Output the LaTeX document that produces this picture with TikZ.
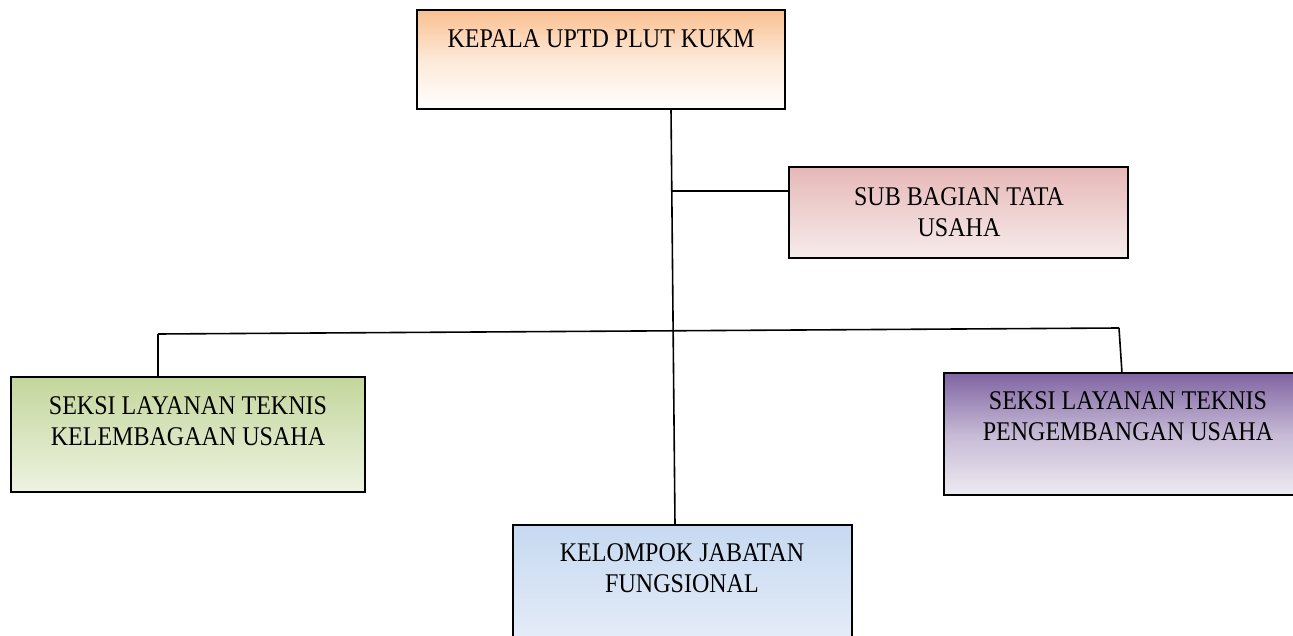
\documentclass[tikz,border=0pt]{standalone}
\usepackage{fontspec}
\setmainfont[FakeStretch=0.89]{Liberation Serif}
\definecolor{orgtop}{HTML}{FAC090}
\definecolor{redtop}{HTML}{E6B8B7}
\definecolor{redbot}{HTML}{F7ECEC}
\definecolor{grntop}{HTML}{C3D69B}
\definecolor{grnbot}{HTML}{EEF3E2}
\definecolor{purtop}{HTML}{8064A2}
\definecolor{purbot}{HTML}{EEEBF2}
\definecolor{blutop}{HTML}{C6D9F1}
\definecolor{blubot}{HTML}{EAF0F9}
\tikzset{
  box/.style={draw=black, line width=1.6pt, rectangle, inner sep=0pt},
  lbl/.style={anchor=north, inner sep=0pt, align=center, font=\fontsize{27}{31}\selectfont},
  conn/.style={line width=1.6pt}
}
\begin{document}
\begin{tikzpicture}[x=1pt,y=-1pt]
\useasboundingbox (0,0) rectangle (1293,636);
% boxes
\path[box, shading=axis, top color=orgtop, bottom color=white, middle color=orgtop!35] (417,10) rectangle (785,109);
\node[minimum width=368pt, minimum height=99pt, inner sep=0pt] (kepala) at (601,59.5) {};
\path[box, top color=redtop, bottom color=redbot] (789,167) rectangle (1128,258);
\node[minimum width=339pt, minimum height=91pt, inner sep=0pt] (sub) at (958.5,212.5) {};
\path[box, top color=grntop, bottom color=grnbot] (11,377) rectangle (365,492);
\node[minimum width=354pt, minimum height=115pt, inner sep=0pt] (kel) at (188,434.5) {};
\path[box, top color=purtop, bottom color=purbot, middle color=purtop!45] (944,373) rectangle (1312,495);
\node[minimum width=368pt, minimum height=122pt, inner sep=0pt] (peng) at (1128,434) {};
\path[box, top color=blutop, bottom color=blubot] (513,525) rectangle (852,660);
\node[minimum width=339pt, minimum height=135pt, inner sep=0pt] (jab) at (682.5,592.5) {};
% texts
\node[lbl] (kepalat) at (601,29) {KEPALA UPTD PLUT KUKM};
\node[lbl] (subt) at (959,187) {SUB BAGIAN TATA\\USAHA};
\node[lbl] (kelt) at (188,396) {SEKSI LAYANAN TEKNIS\\KELEMBAGAAN USAHA};
\node[lbl] (pengt) at (1128,391) {SEKSI LAYANAN TEKNIS\\PENGEMBANGAN USAHA};
\node[lbl] (jabt) at (682,543) {KELOMPOK JABATAN\\FUNGSIONAL};
% connectors
\coordinate (ktop) at (671,109);
\coordinate (jtop) at (675,525);
\coordinate (jsub) at (672,191);
\coordinate (hl) at (158,334);
\coordinate (hr) at (1119,328);
\draw[conn] (ktop) -- (jtop);
\draw[conn] (jsub) -- (sub.west |- jsub);
\draw[conn] (hl) -- (hr);
\draw[conn] (hl) -- (hl |- kel.north);
\draw[conn] (hr) -- (1122,373);
\end{tikzpicture}
\end{document}
